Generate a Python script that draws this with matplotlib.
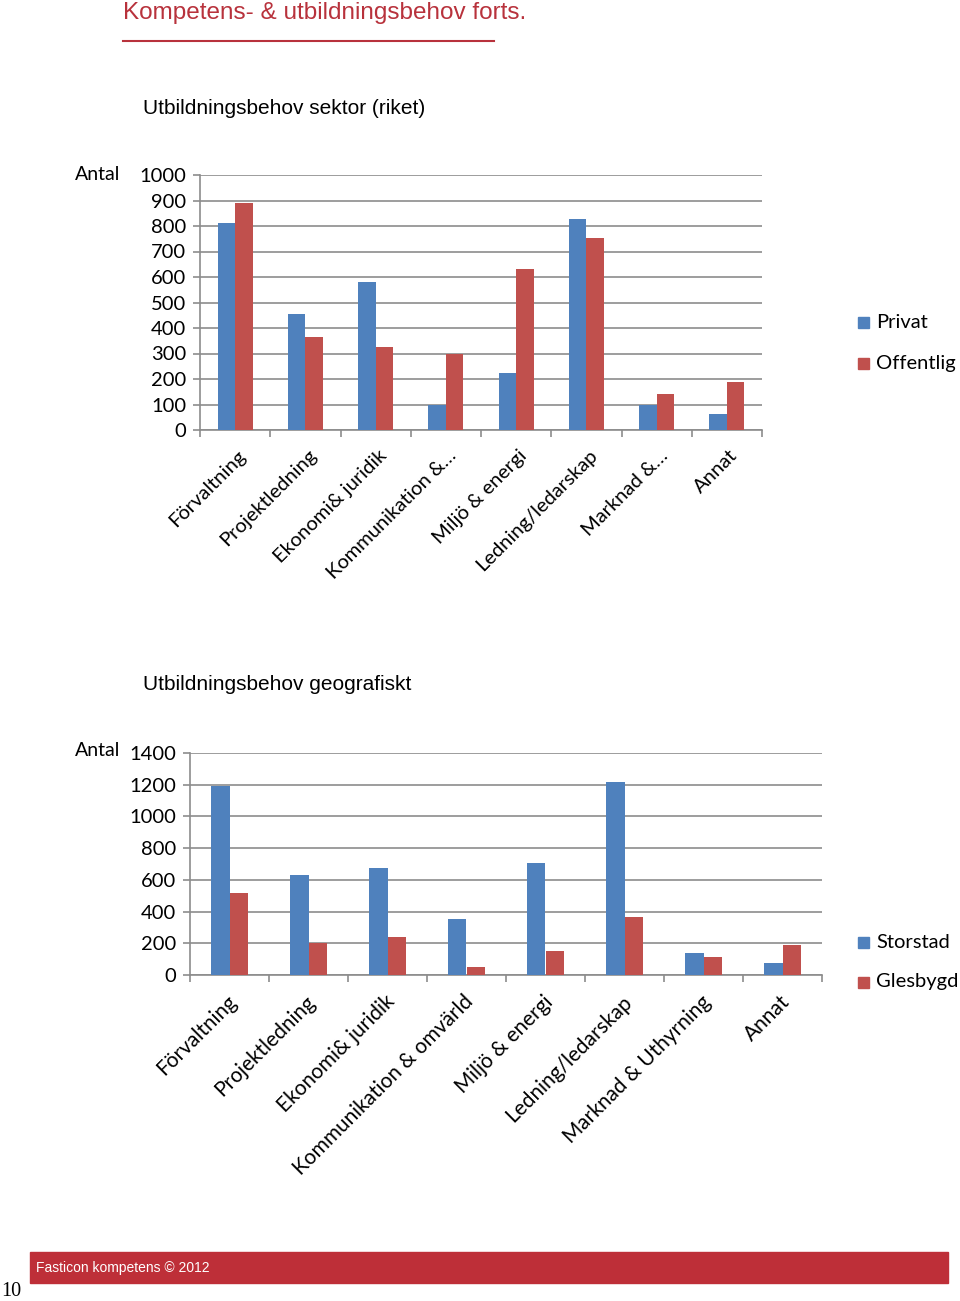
import numpy as np
import matplotlib.pyplot as plt
from matplotlib.patches import Rectangle
from matplotlib.lines import Line2D

plt.rcParams['font.family'] = ['DejaVu Sans']

# data: chart 1, sector
sektor_cats = ["Förvaltning", "Projektledning", "Ekonomi& juridik", "Kommunikation &…",
               "Miljö & energi", "Ledning/ledarskap", "Marknad &…", "Annat"]
privat = [811, 455, 580, 100, 224, 827, 100, 64]
offentlig = [892, 365, 325, 299, 633, 751, 142, 189]

# data: chart 2, geography
geo_cats = ["Förvaltning", "Projektledning", "Ekonomi& juridik", "Kommunikation & omvärld",
            "Miljö & energi", "Ledning/ledarskap", "Marknad & Uthyrning", "Annat"]
storstad = [1194, 629, 672, 352, 709, 1215, 137, 74]
glesbygd = [514, 202, 240, 53, 152, 366, 114, 192]

BLUE = "#4F81BD"
RED = "#C0504D"
GRID = "#8c8c8c"
TICKFONT = "Lato"

fig = plt.figure(figsize=(9.6, 13.01), dpi=100)


def bar_chart(rect, cats, s1, s2, names, ymax, ystep, barw, leg_y, lab_dx, lab_fs, lab_dy):
    ax = fig.add_axes(rect)
    x = np.arange(len(cats))
    ax.bar(x - barw / 2, s1, barw, color=BLUE, zorder=3)
    ax.bar(x + barw / 2, s2, barw, color=RED, zorder=3)
    ax.set_xlim(-0.5, len(cats) - 0.5)
    ax.set_ylim(0, ymax)
    ax.set_yticks(np.arange(0, ymax + 1, ystep))
    ax.yaxis.grid(True, color=GRID, lw=1.2, zorder=0)
    ax.set_axisbelow(True)
    for s in ["top", "right"]:
        ax.spines[s].set_visible(False)
    for s in ["left", "bottom"]:
        ax.spines[s].set_color(GRID)
        ax.spines[s].set_linewidth(1.2)
    ax.set_xticks(np.arange(-0.5, len(cats), 1.0))
    ax.set_xticklabels([])
    ax.tick_params(axis="both", color=GRID, width=1.2, length=5)
    ax.tick_params(axis="y", labelsize=14.5, pad=5)
    for lab in ax.get_yticklabels():
        lab.set_fontfamily(TICKFONT)
    for i, c in enumerate(cats):
        ax.annotate(c, xy=(i + lab_dx, 0), xycoords="data", xytext=(0, lab_dy),
                    textcoords="offset points", rotation=45, rotation_mode="anchor",
                    ha="right", va="top", fontsize=lab_fs, family=TICKFONT)
    # legend
    for j, (nm, col) in enumerate(zip(names, [BLUE, RED])):
        y = leg_y[j]
        fig.patches.append(Rectangle((858 / 960, 1 - (y + 6) / 1301), 11 / 960, 11 / 1301,
                                     transform=fig.transFigure, color=col))
        fig.text(876 / 960, 1 - y / 1301, nm, fontsize=14.5, family=TICKFONT,
                 va="center", ha="left")
    return ax


# header
fig.text(123 / 960, 1 - 13 / 1301, "Kompetens- & utbildningsbehov forts.", color="#b8323c",
         fontsize=17.5, va="center", ha="left", family="Liberation Sans")
fig.add_artist(Line2D([123 / 960, 494 / 960], [1 - 41 / 1301, 1 - 41 / 1301],
                      color="#b8323c", lw=1.5, transform=fig.transFigure))

# chart 1
fig.text(143 / 960, 1 - 109 / 1301, "Utbildningsbehov sektor (riket)", fontsize=15,
         va="center", ha="left", family="Liberation Sans")
fig.text(75 / 960, 1 - 175 / 1301, "Antal", fontsize=14, va="center", ha="left", family=TICKFONT)
bar_chart([200 / 960, 1 - 430 / 1301, 562 / 960, 255 / 1301], sektor_cats, privat, offentlig,
          ["Privat", "Offentlig"], 1000, 100, 0.25, [322, 363], 0.03, 14.5, -12)

# chart 2
fig.text(143 / 960, 1 - 685 / 1301, "Utbildningsbehov geografiskt", fontsize=15,
         va="center", ha="left", family="Liberation Sans")
fig.text(75 / 960, 1 - 751 / 1301, "Antal", fontsize=14, va="center", ha="left", family=TICKFONT)
bar_chart([190 / 960, 1 - 975 / 1301, 632 / 960, 222 / 1301], geo_cats, storstad, glesbygd,
          ["Storstad", "Glesbygd"], 1400, 200, 0.23, [942, 982], -0.04, 15, -12)

# footer
fig.patches.append(Rectangle((30 / 960, 1 - 1283 / 1301), 918 / 960, 31 / 1301,
                             transform=fig.transFigure, color="#be2f38"))
fig.text(36 / 960, 1 - 1268 / 1301, "Fasticon kompetens © 2012", color="white",
         fontsize=10, va="center", ha="left", family="Liberation Sans")
fig.text(1 / 960, 1 - 1292 / 1301, "10", fontsize=14.5, va="center", ha="left",
         family="Liberation Serif")

fig.savefig("out.png", dpi=100)
